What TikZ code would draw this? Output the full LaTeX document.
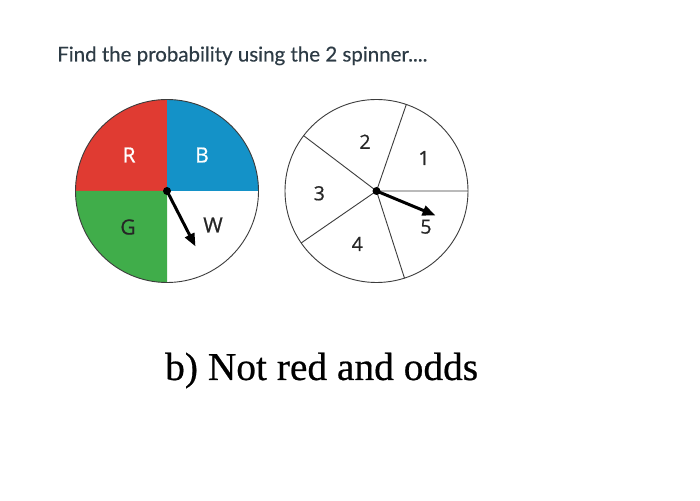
\documentclass[tikz,border=0pt]{standalone}
\usepackage{fontspec}
\setmainfont{Liberation Serif}
\newfontfamily\qfont[FakeBold=0.5]{Liberation Serif}
\newfontfamily\latofont[FakeBold=0.35]{Lato}
\newfontfamily\spinfont[FakeBold=0.7]{Open Sans}
\usetikzlibrary{arrows.meta}
\definecolor{titlec}{HTML}{2D3B45}
\definecolor{sred}{RGB}{224,59,50}
\definecolor{sblue}{RGB}{20,146,200}
\definecolor{sgreen}{RGB}{64,173,74}
\definecolor{rimc}{RGB}{60,60,60}
\begin{document}
\begin{tikzpicture}[x=1pt,y=1pt,
  lab/.style={font=\spinfont\fontsize{21}{23}\selectfont, inner sep=0pt},
  num/.style={font=\spinfont\fontsize{19.5}{21}\selectfont, inner sep=0pt, text=black!85},
  rim/.style={draw=rimc, line width=0.9pt},
  spoke/.style={draw=rimc, line width=0.9pt},
  pointer/.style={line width=3pt, -{Triangle[length=13pt,width=10pt]}}]
\useasboundingbox (0,0) rectangle (700,500);
\fill[white] (0,0) rectangle (700,500);
% title
\node[anchor=base west, font=\latofont\fontsize{20.5}{24}\selectfont, text=titlec, inner sep=0pt] (title) at (57,438.5) {Find the probability using the 2 spinner....};
% left spinner
\coordinate (L) at (167,309);
\fill[sred] (L) -- ++(180:91.5) arc[start angle=180,end angle=90,radius=91.5] -- cycle;
\fill[sblue] (L) -- ++(90:91.5) arc[start angle=90,end angle=0,radius=91.5] -- cycle;
\fill[sgreen] (L) -- ++(180:91.5) arc[start angle=180,end angle=270,radius=91.5] -- cycle;
\draw[rim] (L) circle (91.5);
\node[lab, text=white] (lr) at (129,345) {R};
\node[lab, text=white] (lb) at (202,345) {B};
\node[lab, text=black!85] (lg) at (128,273) {G};
\node[lab, text=black!85] (lw) at (213,275) {W};
\coordinate (Ltip) at (195.5,253.5);
\draw[pointer] (L) -- (Ltip);
\fill[black] (L) circle (4);
% right spinner
\coordinate (C) at (376.5,309);
\draw[spoke] (C) -- ++(0:91.5) (C) -- ++(71:91.5) (C) -- ++(142.8:91.5) (C) -- ++(214.6:91.5) (C) -- ++(287.8:91.5);
\draw[rim] (C) circle (91.5);
\node[num] (n1) at (424,342) {1};
\node[num] (n2) at (365,358.3) {2};
\node[num] (n3) at (319.3,306.7) {3};
\node[num] (n4) at (357.3,256) {4};
\node[num] (n5) at (426,273.3) {5};
\coordinate (Ctip) at (435.5,284.5);
\draw[pointer] (C) -- (Ctip);
\fill[black] (C) circle (4);
% question
\node[anchor=base west, font=\qfont\fontsize{39.4}{44}\selectfont, inner sep=0pt] (q) at (165,120) {b) Not red and odds};
\end{tikzpicture}
\end{document}
